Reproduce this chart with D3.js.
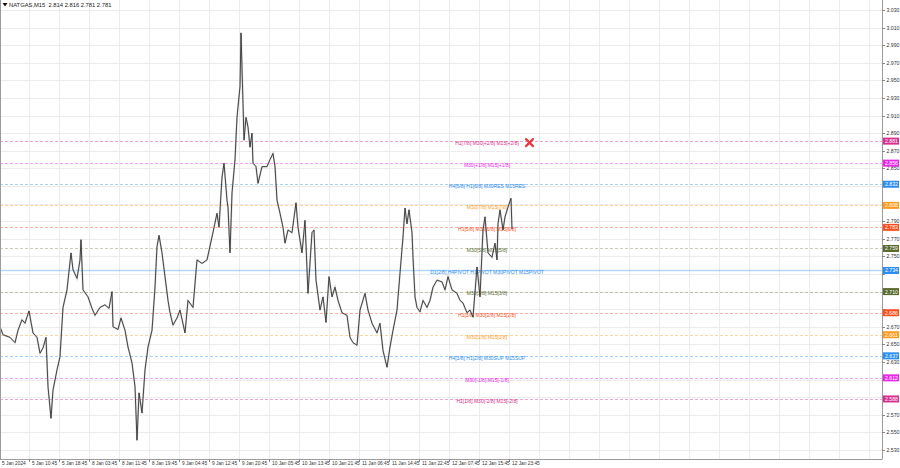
<!DOCTYPE html>
<html><head><meta charset="utf-8">
<script src="https://cdn.jsdelivr.net/npm/d3@7"></script>
<style>html,body{margin:0;padding:0;background:#fff;} svg{display:block;font-family:"Liberation Sans",Arial,sans-serif;}</style>
</head><body><svg id="c" width="900" height="468"></svg>
<script>
// ---------------- DATA ----------------
const symbolTitle = "NATGAS,M15  2.814 2.816 2.781 2.781";
const timeLabels = ["5 Jan 2024","5 Jan 10:45","5 Jan 18:45","8 Jan 03:45","8 Jan 11:45","8 Jan 19:45",
  "9 Jan 04:45","9 Jan 12:45","9 Jan 20:45","10 Jan 05:45","10 Jan 13:45","10 Jan 21:45",
  "11 Jan 06:45","11 Jan 14:45","11 Jan 22:45","12 Jan 07:45","12 Jan 15:45","12 Jan 23:45"];
const priceTicks = [3.030,3.010,2.990,2.970,2.950,2.930,2.910,2.890,2.870,2.850,2.830,2.810,2.790,
  2.770,2.750,2.730,2.710,2.690,2.670,2.650,2.630,2.610,2.590,2.570,2.550,2.530];
// bar position (chart bars) and price
const bars = [0,3,10,15,18,22,25,29,33,37,40,43,46,48,51,53,57,60,63,67,71,73,77,80,81,83,88,92,95,100,
  105,109,112,113,118,121,125,128,132,135,137,139,142,145,148,152,155,157,159,162,165,168,170,173,177,180,
  185,188,193,197,202,207,212,217,219,222,224,227,228,230,232,235,237,238,240,241,243,244,246,248,250,252,
  253,256,258,262,267,270,273,275,277,280,283,285,288,292,296,298,302,305,308,312,314,316,320,323,326,329,
  332,335,338,342,347,350,353,357,360,365,368,372,377,380,383,387,390,393,397,400,403,405,407,409,412,413,
  415,417,420,423,427,430,433,437,442,445,448,452,457,460,463,467,470,473,477,480,483,485,488,492,495,497,
  498,500,503,505,508,511,512];
const prices = [2.670,2.661,2.658,2.652,2.666,2.678,2.674,2.688,2.663,2.658,2.640,2.646,2.658,2.602,2.566,
  2.598,2.621,2.636,2.692,2.712,2.754,2.735,2.725,2.746,2.769,2.712,2.704,2.691,2.683,2.692,
  2.695,2.691,2.710,2.670,2.667,2.680,2.666,2.647,2.629,2.602,2.541,2.595,2.572,2.621,2.647,2.666,2.715,2.761,
  2.774,2.754,2.727,2.700,2.686,2.672,2.680,2.689,
  2.663,2.700,2.692,2.746,2.742,2.746,2.772,2.799,2.783,2.840,2.856,2.814,2.806,2.754,2.822,2.860,2.908,2.920,
  2.943,3.004,2.924,2.882,2.908,2.897,2.874,2.890,
  2.856,2.852,2.833,2.852,2.852,2.860,2.867,2.852,2.814,2.799,2.783,2.765,2.780,2.777,2.811,2.783,2.754,2.791,
  2.708,2.777,2.780,2.723,2.689,2.704,2.675,2.727,
  2.704,2.715,2.700,2.686,2.683,2.658,2.652,2.649,2.689,2.708,2.689,2.674,2.663,2.674,2.643,2.624,2.647,2.666,
  2.689,2.731,2.772,2.805,2.787,2.803,2.777,2.749,
  2.704,2.692,2.687,2.700,2.692,2.700,2.715,2.723,2.721,2.712,2.727,2.712,2.708,2.700,2.697,2.686,2.689,2.681,
  2.738,2.704,2.780,2.795,2.754,2.749,2.765,2.746,
  2.787,2.803,2.780,2.795,2.806,2.816,2.781];
const levelPrices = [2.881,2.856,2.832,2.808,2.783,2.759,2.734,2.710,2.686,2.661,2.637,2.612,2.588];
const levelTexts = ["H1[7/8] M30[+2/8] M15[+2/8]","M30[+1/8] M15[+1/8]","H4[5/8] H1[6/8] M30RES M15RES",
  "M30[7/8] M15[7/8]","H1[5/8] M30[6/8] M15[6/8]","M30[5/8] M15[5/8]","D1[2/8] H4PIVOT H1PIVOT M30PIVOT M15PIVOT",
  "M30[3/8] M15[3/8]","H1[3/8] M30[2/8] M15[2/8]","M30[1/8] M15[1/8]","H4[3/8] H1[2/8] M30SUP M15SUP",
  "M30[-1/8] M15[-1/8]","H1[1/8] M30[-2/8] M15[-2/8]"];
const levelKinds = ["pink","magenta","blue","orange","red","olive","pivot","olive","red","orange","blue","magenta","pink"];
const alertMark = {bar: 530, price: 2.881};

// ---------------- STYLE ----------------
const palette = {pink:"#d92e8e", magenta:"#ea28ea", blue:"#2b8ef0", pivot:"#2b8ef0",
  orange:"#ff9a1c", red:"#ff4d1c", olive:"#5a6a2c"};
const W = 900, H = 468, plotR = 882, plotB = 459;

const svg = d3.select("#c");
const x = d3.scaleLinear().domain([0, 900]).range([-0.5, 899.5]);
const y = d3.scaleLinear().domain([2.530, 3.030]).range([450, 10]);

svg.append("rect").attr("width", W).attr("height", H).attr("fill", "#fff");

// grid
const g = svg.append("g");
const gridBars = d3.range(0, 882, 30);
g.selectAll(".vg").data(gridBars).join("line")
  .attr("x1", d => x(d)).attr("x2", d => x(d)).attr("y1", 0).attr("y2", plotB)
  .attr("stroke", "#ececec").attr("stroke-width", 1);
g.selectAll(".hg").data(priceTicks).join("line")
  .attr("x1", 0).attr("x2", plotR).attr("y1", d => Math.round(y(d)) + 0.5).attr("y2", d => Math.round(y(d)) + 0.5)
  .attr("stroke", "#ececec").attr("stroke-width", 1);

// level lines
const levels = levelPrices.map((p, i) => ({p, t: levelTexts[i], k: levelKinds[i]}));
svg.append("g").selectAll("line").data(levels).join("line")
  .attr("x1", 0).attr("x2", plotR)
  .attr("y1", d => Math.round(y(d.p)) + 0.5).attr("y2", d => Math.round(y(d.p)) + 0.5)
  .attr("stroke", d => palette[d.k])
  .attr("stroke-opacity", d => d.k === "pivot" ? 0.35 : (d.k === "olive" ? 0.32 : 0.42))
  .attr("stroke-width", d => d.k === "pivot" ? 1.4 : 1)
  .attr("stroke-dasharray", d => d.k === "pivot" ? null : "3,2");

// level texts
svg.append("g").selectAll("text").data(levels).join("text")
  .attr("x", 487).attr("y", d => y(d.p) + 3.8)
  .attr("text-anchor", "middle").attr("font-size", 5.0)
  .attr("fill", d => palette[d.k]).text(d => d.t);

// price line
const series = bars.map((b, i) => [b, prices[i]]);
const line = d3.line().x(d => x(d[0]) + 0.5).y(d => y(d[1]));
svg.append("path").datum(series).attr("d", line).attr("fill", "none")
  .attr("stroke", "#a8a8a8").attr("stroke-width", 1.8).attr("stroke-opacity", 0.5);
svg.append("path").datum(series).attr("d", line).attr("fill", "none")
  .attr("stroke", "#2a2a2a").attr("stroke-width", 0.85);

// alert X
const ax = x(alertMark.bar), ay = y(alertMark.price) + 1.5;
svg.append("path").attr("d", `M${ax-3.5},${ay-3.5}L${ax+3.5},${ay+3.5}M${ax+3.5},${ay-3.5}L${ax-3.5},${ay+3.5}`)
  .attr("stroke", "#e8383d").attr("stroke-width", 2.2).attr("stroke-linecap", "round");

// frame
svg.append("line").attr("x1", plotR + 0.5).attr("x2", plotR + 0.5).attr("y1", 0).attr("y2", plotB)
  .attr("stroke", "#9b9b9b");
svg.append("line").attr("x1", 0).attr("x2", plotR + 0.5).attr("y1", plotB + 0.5).attr("y2", plotB + 0.5)
  .attr("stroke", "#9b9b9b");
svg.append("line").attr("x1", 0.5).attr("x2", 0.5).attr("y1", 0).attr("y2", plotB)
  .attr("stroke", "#9b9b9b");

// price axis (tick labels covered by a level box are not shown, as in the terminal)
const pa = svg.append("g");
const visibleTicks = priceTicks.filter(t => levelPrices.every(p => Math.abs(y(t) - y(p)) > 4));
pa.selectAll("line").data(priceTicks).join("line")
  .attr("x1", plotR).attr("x2", plotR + 3).attr("y1", d => Math.round(y(d)) + 0.5).attr("y2", d => Math.round(y(d)) + 0.5)
  .attr("stroke", "#888");
pa.selectAll("text").data(visibleTicks).join("text")
  .attr("x", plotR + 4.5).attr("y", d => y(d) + 2)
  .attr("font-size", 5.2).attr("fill", "#333").text(d => d.toFixed(3));

// time axis
const ta = svg.append("g");
ta.selectAll("line").data(timeLabels).join("line")
  .attr("x1", (d, i) => x(i * 30)).attr("x2", (d, i) => x(i * 30))
  .attr("y1", plotB).attr("y2", plotB + 3).attr("stroke", "#888");
ta.selectAll("text").data(timeLabels).join("text")
  .attr("x", (d, i) => x(i * 30) + 2.5).attr("y", 465)
  .attr("font-size", 4.8).attr("fill", "#333").text(d => d);

// level price boxes
const lb = svg.append("g").selectAll("g").data(levels).join("g")
  .attr("transform", d => `translate(${plotR + 1},${y(d.p)})`);
lb.append("rect").attr("x", 0).attr("y", -3.5).attr("width", 16).attr("height", 7)
  .attr("fill", d => palette[d.k]);
lb.append("text").attr("x", 2).attr("y", 1.9).attr("font-size", 5.2).attr("fill", "#fff")
  .text(d => d.p.toFixed(3));

// title
svg.append("path").attr("d", "M2.5,3L7.5,3L5,6.5Z").attr("fill", "#111");
svg.append("text").attr("x", 9).attr("y", 7).attr("font-size", 5.8).attr("fill", "#222")
  .attr("xml:space", "preserve").style("white-space", "pre").text(symbolTitle);
</script></body></html>
